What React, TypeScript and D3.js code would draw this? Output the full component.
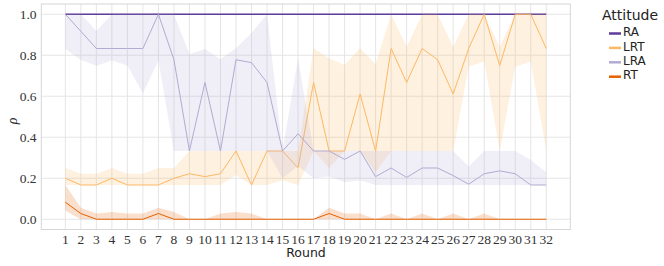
import * as d3 from "d3";

const rounds = [1, 2, 3, 4, 5, 6, 7, 8, 9, 10, 11, 12, 13, 14, 15, 16, 17, 18, 19, 20, 21, 22, 23, 24, 25, 26, 27, 28, 29, 30, 31, 32];

const raMean = [1, 1, 1, 1, 1, 1, 1, 1, 1, 1, 1, 1, 1, 1, 1, 1, 1, 1, 1, 1, 1, 1, 1, 1, 1, 1, 1, 1, 1, 1, 1, 1];

const lrtMean = [0.2, 0.167, 0.167, 0.2, 0.167, 0.167, 0.167, 0.2, 0.222, 0.208, 0.222, 0.333, 0.167, 0.333, 0.333, 0.25,
  0.667, 0.333, 0.333, 0.611, 0.333, 0.833, 0.667, 0.833, 0.778, 0.611, 0.833, 1, 0.75, 1, 1, 0.833];
const lrtLow = [0.167, 0.167, 0.167, 0.167, 0.167, 0.167, 0.167, 0.167, 0.167, 0.167, 0.167, 0.216, 0.167, 0.167, 0.19, 0.167,
  0.333, 0.25, 0.333, 0.333, 0.23, 0.333, 0.333, 0.333, 0.333, 0.333, 0.744, 0.77, 0.333, 0.744, 0.77, 0.333];
const lrtHigh = [0.25, 0.222, 0.222, 0.25, 0.222, 0.222, 0.25, 0.25, 0.333, 0.333, 0.333, 0.333, 0.333, 0.333, 0.333, 0.333,
  0.834, 0.785, 0.753, 0.834, 0.757, 1, 0.842, 1, 1, 0.842, 1, 1, 0.842, 1, 1, 1];

const lraMean = [1, 0.917, 0.833, 0.833, 0.833, 0.833, 1, 0.778, 0.333, 0.667, 0.333, 0.778, 0.764, 0.667, 0.333, 0.417,
  0.333, 0.333, 0.292, 0.333, 0.208, 0.25, 0.204, 0.25, 0.25, 0.213, 0.171, 0.222, 0.236, 0.222, 0.167, 0.167];
const lraLow = [0.83, 0.777, 0.749, 0.774, 0.75, 0.615, 0.774, 0.333, 0.333, 0.333, 0.333, 0.333, 0.333, 0.333, 0.2, 0.26,
  0.2, 0.21, 0.18, 0.19, 0.167, 0.167, 0.167, 0.167, 0.167, 0.167, 0.167, 0.167, 0.167, 0.167, 0.167, 0.167];
const lraHigh = [1, 1, 0.918, 1, 1, 1, 1, 1, 0.805, 0.83, 0.78, 0.834, 0.908, 1, 0.333, 0.785,
  0.333, 0.333, 0.333, 0.333, 0.333, 0.333, 0.333, 0.333, 0.333, 0.333, 0.257, 0.333, 0.333, 0.333, 0.289, 0.229];

const rtMean = [0.083, 0.028, 0, 0, 0, 0, 0.028, 0, 0, 0, 0, 0, 0, 0, 0, 0,
  0, 0.028, 0, 0, 0, 0, 0, 0, 0, 0, 0, 0, 0, 0, 0, 0];
const rtLow = [0.042, 0, 0, 0, 0, 0, 0, 0, 0, 0, 0, 0, 0, 0, 0, 0,
  0, 0, 0, 0, 0, 0, 0, 0, 0, 0, 0, 0, 0, 0, 0, 0];
const rtHigh = [0.167, 0.056, 0.028, 0.035, 0.028, 0.028, 0.056, 0.035, 0, 0, 0.028, 0.035, 0.028, 0, 0, 0,
  0, 0.056, 0.028, 0.028, 0, 0.028, 0, 0.028, 0, 0.028, 0, 0.028, 0, 0, 0, 0];

const yTicks = [0, 0.2, 0.4, 0.6, 0.8, 1.0];

const series = [
  { name: "RA", color: "#5e3c99", mean: raMean, low: raMean, high: raMean, width: 1.5 },
  { name: "LRT", color: "#fdb863", mean: lrtMean, low: lrtLow, high: lrtHigh, width: 1 },
  { name: "LRA", color: "#b2abd2", mean: lraMean, low: lraLow, high: lraHigh, width: 1 },
  { name: "RT", color: "#e66101", mean: rtMean, low: rtLow, high: rtHigh, width: 1 },
];

const W = 664;
const H = 266;
const PLOT = { left: 41.3, right: 570.3, top: 4, bottom: 229.5 };

const tickFont = "'Liberation Serif', serif";
const sansFont = "'DejaVu Sans', sans-serif";

export default function App() {
  const x = d3.scaleLinear().domain([-0.55, 33.55]).range([PLOT.left, PLOT.right]);
  const y = d3.scaleLinear().domain([-0.05, 1.05]).range([PLOT.bottom, PLOT.top]);

  const area = (s: typeof series[0]) =>
    d3.area<number>()
      .x((r) => x(r))
      .y0((_, i) => y(s.low[i]))
      .y1((_, i) => y(s.high[i]))(rounds);
  const line = (s: typeof series[0]) =>
    d3.line<number>()
      .x((r) => x(r))
      .y((_, i) => y(s.mean[i]))(rounds);

  return (
    <svg width={W} height={H} style={{ position: "absolute", left: 0, top: 0, background: "#fff" }}>
      {/* grid */}
      <g stroke="#e2e2e2" strokeWidth={0.9}>
        {yTicks.map((t) => (
          <line key={"y" + t} x1={PLOT.left} x2={PLOT.right} y1={y(t)} y2={y(t)} />
        ))}
        {rounds.map((r) => (
          <line key={"x" + r} x1={x(r)} x2={x(r)} y1={PLOT.top} y2={PLOT.bottom} />
        ))}
      </g>
      <rect x={PLOT.left} y={PLOT.top} width={PLOT.right - PLOT.left} height={PLOT.bottom - PLOT.top}
        fill="none" stroke="#d6d6d6" strokeWidth={1} />

      {/* bands and lines */}
      {series.map((s) => (
        <g key={s.name}>
          <path d={area(s) ?? ""} fill={s.color} fillOpacity={0.2} stroke="none" />
          <path d={line(s) ?? ""} fill="none" stroke={s.color} strokeWidth={s.width} />
        </g>
      ))}

      {/* y ticks */}
      {yTicks.map((t) => (
        <text key={"yl" + t} x={36.5} y={y(t)} dy="0.35em" textAnchor="end"
          fontFamily={tickFont} fontSize={13.5} fill="#333">
          {t.toFixed(1)}
        </text>
      ))}
      {/* x ticks */}
      {rounds.map((r) => (
        <text key={"xl" + r} x={x(r)} y={243.5} textAnchor="middle"
          fontFamily={tickFont} fontSize={13.5} fill="#333">
          {r}
        </text>
      ))}

      <text x={306} y={257} textAnchor="middle" fontFamily={sansFont} fontSize={12.5} fill="#222">Round</text>
      <text transform="translate(17,121) rotate(-90)" textAnchor="middle" fontFamily={tickFont}
        fontStyle="italic" fontSize={14} fill="#222">ρ</text>

      {/* legend */}
      <text x={602} y={20} fontFamily={sansFont} fontSize={14} fill="#222">Attitude</text>
      {series.map((s, i) => (
        <g key={"lg" + s.name} transform={`translate(0, ${32 + i * 14.4})`}>
          <line x1={609} x2={621} y1={1.5} y2={1.5} stroke={s.color} strokeWidth={2.5} />
          <text x={623} y={0} dy="0.35em" fontFamily={sansFont} fontSize={12} fill="#222">{s.name}</text>
        </g>
      ))}
    </svg>
  );
}
